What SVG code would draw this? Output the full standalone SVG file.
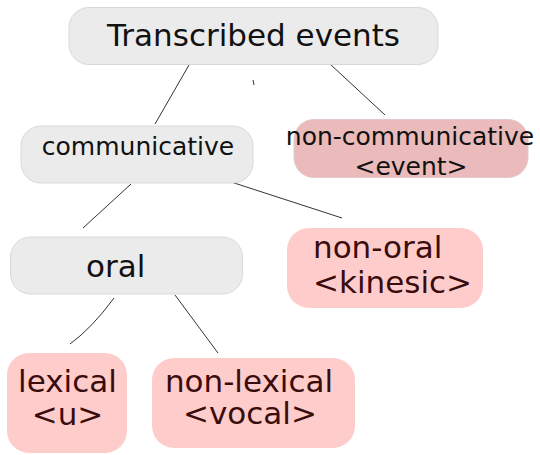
<svg xmlns="http://www.w3.org/2000/svg" width="540" height="455" viewBox="0 0 540 455">
<style>
.gray{fill:#ebebeb;stroke:#d3dbd7;stroke-width:1}
.pink{fill:#ffcccc;stroke:none}
.dpink{fill:#ebbaba;stroke:#e3c9c9;stroke-width:1}
text{font-family:"DejaVu Sans",sans-serif}
.dark{fill:#111}
.brown{fill:#3a0c0c}
.edge{stroke:#333;stroke-width:1;fill:none}
</style>
<rect width="540" height="455" fill="#ffffff"/>
<g id="connectors">
<line class="edge" x1="189" y1="65" x2="155" y2="124"/>
<line class="edge" x1="253" y1="80" x2="254" y2="85"/>
<line class="edge" x1="330" y1="64" x2="385" y2="115"/>
<line class="edge" x1="131" y1="184" x2="83" y2="228"/>
<line class="edge" x1="228" y1="181" x2="342" y2="218"/>
<path class="edge" d="M114,298 Q92,328 70,344"/>
<line class="edge" x1="175" y1="295" x2="218" y2="353"/>
</g>
<g id="transcribed">
<rect class="gray" x="69" y="7.5" width="369" height="57" rx="20"/>
<text class="dark" x="253.5" y="46" font-size="31" text-anchor="middle">Transcribed events</text>
</g>
<g id="communicative">
<rect class="gray" x="21" y="126" width="232" height="57" rx="20"/>
<text class="dark" x="138" y="155" font-size="25" text-anchor="middle">communicative</text>
</g>
<g id="noncommunicative">
<rect class="dpink" x="294" y="119.5" width="234" height="58" rx="20"/>
<text class="dark" x="410" y="145" font-size="25" text-anchor="middle">non-communicative</text>
<text class="dark" x="411" y="175" font-size="25" text-anchor="middle">&lt;event&gt;</text>
</g>
<g id="oral">
<rect class="gray" x="10.5" y="237" width="232" height="57" rx="20"/>
<text class="dark" x="86" y="277" font-size="31">oral</text>
</g>
<g id="nonoral">
<rect class="pink" x="287" y="228" width="196" height="80" rx="22"/>
<text class="brown" x="313" y="258" font-size="31">non-oral</text>
<text class="brown" x="313" y="293" font-size="31">&lt;kinesic&gt;</text>
</g>
<g id="lexical">
<rect class="pink" x="7" y="353" width="120" height="100" rx="22"/>
<text class="brown" x="67.5" y="392" font-size="31" text-anchor="middle">lexical</text>
<text class="brown" x="67.5" y="425" font-size="31" text-anchor="middle">&lt;u&gt;</text>
</g>
<g id="nonlexical">
<rect class="pink" x="152" y="358" width="203" height="90" rx="22"/>
<text class="brown" x="249" y="392" font-size="31" text-anchor="middle">non-lexical</text>
<text class="brown" x="250" y="424" font-size="31" text-anchor="middle">&lt;vocal&gt;</text>
</g>
</svg>
